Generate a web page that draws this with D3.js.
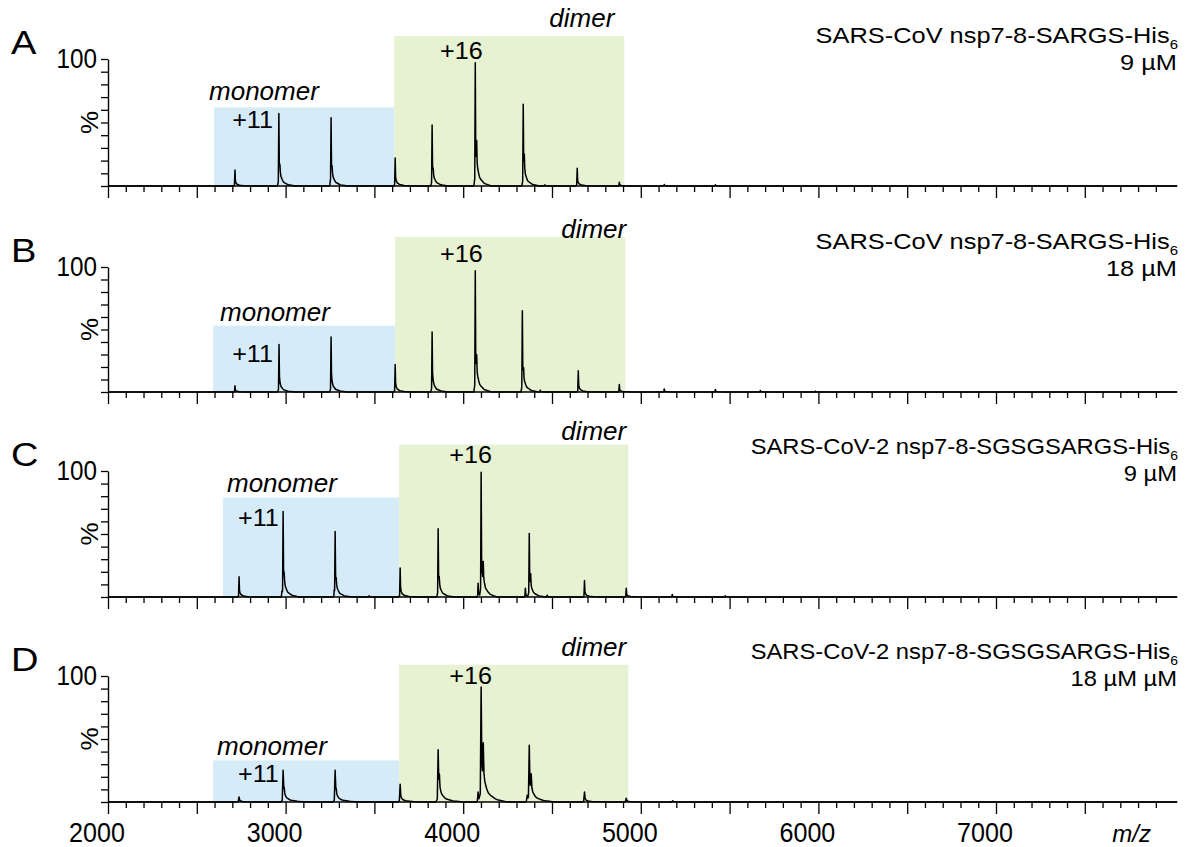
<!DOCTYPE html>
<html><head><meta charset="utf-8">
<script src="https://cdn.jsdelivr.net/npm/d3@7"></script>
<style>
body{margin:0;background:#fff;}
svg{display:block;font-family:"Liberation Sans",Arial,Helvetica,sans-serif;}
</style></head>
<body><svg id="c" width="1188" height="847"></svg>
<script>
// ---------- data ----------
const panelLetters = ["A","B","C","D"];
const titleLine1 = ["SARS-CoV nsp7-8-SARGS-His","SARS-CoV nsp7-8-SARGS-His","SARS-CoV-2 nsp7-8-SGSGSARGS-His","SARS-CoV-2 nsp7-8-SGSGSARGS-His"];
const titleSub = ["6","6","6","6"];
const titleLine2 = ["9 µM","18 µM","9 µM","18 µM µM"];
const xTickLabels = [2000,3000,4000,5000,6000,7000];
const xLabel = "m/z";
const yLabel = "%";
// peaks: [m/z, relative intensity %]
const peaksA = [[2715,12.6],[2962,57],[2968,6],[3252,2],[3256,53],[3262,5],[3617,22],[3825,48],[3831,5],[4068,97],[4076,20],[4338,64],[4344,13],[4460,1],[4642,14],[4879,3],[5132,1.2],[5420,1]];
const peaksB = [[2715,5],[2963,38],[3256,44],[3617,22],[3825,48],[4068,97],[4076,14],[4333,65],[4340,8],[4434,1.5],[4648,17],[4879,6],[5132,2.5],[5420,2],[5673,1.2],[5983,0.7]];
const peaksC = [[2738,16],[2979,4],[2986,67],[2992,6],[3274,4],[3279,51],[3285,5],[3470,1],[3645,23],[3859,54],[3865,6],[4084,11],[4101,98],[4113,17],[4350,7],[4372,50],[4380,10],[4473,1.5],[4683,13],[4918,7],[5177,2],[5476,1]];
const peaksD = [[2738,4],[2986,25],[2992,5],[3279,25],[3285,4],[3645,14],[3859,41],[3866,12],[4084,8],[4101,90],[4113,31],[4360,5],[4372,44],[4383,14],[4683,8],[4918,3],[5180,1]];
const panelPeaks = [peaksA, peaksB, peaksC, peaksD];
// shaded regions: [start m/z, end m/z, top %]
const monomerBox = [[2597,3611,62],[2592,3617,53],[2648,3639,79],[2592,3639,33]];
const dimerBox = [[3611,4907,118],[3617,4913,124],[3639,4930,121],[3639,4930,109]];
// annotation anchors [m/z, %]
const monomerText = [[2569,68],[2631,57],[2670,83],[2614,37]];
const plus11Text = [[2699,46],[2699,24],[2732,56],[2732,16]];
const dimerText = [[4851,125],[4918,123],[4918,125],[4918,116]];
const plus16Text = [[3870,100],[3870,104],[3921,106],[3921,94]];
// peak profile: [offset m/z, fraction of height]
const profile = [[-8,0],[-3,0.06],[0,1],[2.5,0.32],[6,0.19],[12,0.11],[25,0.05],[50,0.017],[90,0]];
const tailScale = [1,1,1,1.6];

// ---------- layout ----------
const baseY = [186,392,597,802];
const topY = [59,267,471,676];
const titleScale = [1.154,1.154,1.08,1.08];
const svg = d3.select("#c");
const x = d3.scaleLinear().domain([2000,8000]).range([108,1173.6]);
const xEnd = 8020;
const blue = "#d5ebf7", green = "#e7f2d3";

function stext(g, px, py, str, size, sx, anchor, italic){
  return g.append("text").attr("transform",`translate(${px},${py}) scale(${sx},1)`)
    .attr("text-anchor",anchor||"start").attr("font-size",size)
    .attr("font-style",italic?"italic":"normal").attr("fill","#000").text(str);
}
function prof(d, ts){
  for(let i=0;i<profile.length-1;i++){
    const a=profile[i][0]*ts, b=profile[i+1][0]*ts;
    if(d>=a && d<=b){ return profile[i][1] + (profile[i+1][1]-profile[i][1])*(d-a)/(b-a); }
  }
  return 0;
}

panelLetters.forEach((L,i)=>{
  const g = svg.append("g");
  const y = d3.scaleLinear().domain([0,100]).range([baseY[i], topY[i]]);
  // boxes
  const mb = monomerBox[i], db = dimerBox[i];
  g.append("rect").attr("x",x(mb[0])).attr("width",x(mb[1])-x(mb[0])).attr("y",y(mb[2])).attr("height",y(0)-y(mb[2])).attr("fill",blue);
  g.append("rect").attr("x",x(db[0])).attr("width",x(db[1])-x(db[0])).attr("y",y(db[2])).attr("height",y(0)-y(db[2])).attr("fill",green);
  // spectrum
  const pk = panelPeaks[i], ts = tailScale[i];
  let xs = [2000, xEnd];
  pk.forEach(p=>profile.forEach(o=>xs.push(p[0]+o[0]*ts)));
  xs = Array.from(new Set(xs)).sort((a,b)=>a-b);
  const pts = xs.map(v=>[v, d3.sum(pk, p=>p[1]*prof(v-p[0], ts))]);
  g.append("path").datum(pts).attr("fill","none").attr("stroke","#000").attr("stroke-width",1.5).attr("stroke-linejoin","round")
    .attr("d", d3.line().x(d=>x(d[0])).y(d=>y(d[1])));
  // x axis
  g.append("line").attr("x1",x(2000)).attr("x2",x(xEnd)).attr("y1",y(0)).attr("y2",y(0)).attr("stroke","#000").attr("stroke-width",1.5);
  const minor = g.append("g").attr("transform",`translate(0,${y(0)})`)
    .call(d3.axisBottom(x).tickValues(d3.range(2000,7901,100).filter(v=>v%500!==0)).tickSize(6).tickSizeOuter(0).tickFormat(""));
  const major = g.append("g").attr("transform",`translate(0,${y(0)})`)
    .call(d3.axisBottom(x).tickValues(d3.range(2000,7501,500)).tickSize(12).tickSizeOuter(0).tickFormat(""));
  [minor,major].forEach(a=>{a.select(".domain").remove(); a.selectAll("line").attr("stroke","#000").attr("stroke-width",1.3);});
  // y axis
  const ya = g.append("g").attr("transform",`translate(${x(2000)},0)`)
    .call(d3.axisLeft(y).tickValues(d3.range(0,101,10)).tickSize(7).tickSizeOuter(0).tickFormat(""));
  ya.select(".domain").attr("stroke","#000").attr("stroke-width",1.4);
  ya.selectAll("line").attr("stroke","#000").attr("stroke-width",1.3);
  stext(g, 97, y(100)+9, "100", 27, 0.9, "end");
  g.append("text").attr("transform",`translate(98,${y(50)}) rotate(-90) scale(1,0.95)`).attr("text-anchor","middle")
    .attr("font-size",26).text(yLabel);
  // panel letter
  stext(g, 11, y(100)-5, L, 34, 1.12, "start");
  // titles
  const t = g.append("text").attr("transform",`translate(1178,${y(0)-143}) scale(${titleScale[i]},1)`).attr("text-anchor","end").attr("font-size",22);
  t.append("tspan").text(titleLine1[i]);
  t.append("tspan").attr("font-size",13).attr("dy",6).text(titleSub[i]);
  stext(g, 1177, y(0)-116, titleLine2[i], 22, titleScale[i], "end");
  // annotations
  stext(g, x(monomerText[i][0]), y(monomerText[i][1]), "monomer", 25, 1.04, "start", true);
  stext(g, x(plus11Text[i][0]), y(plus11Text[i][1]), "+11", 24, 1.05, "start");
  stext(g, x(dimerText[i][0]), y(dimerText[i][1]), "dimer", 25, 1.04, "end", true);
  stext(g, x(plus16Text[i][0]), y(plus16Text[i][1]), "+16", 24, 1.05, "start");
  if(i===3){
    xTickLabels.forEach(v=>stext(g, x(v)-11, y(0)+40, String(v), 27, 0.93, "middle"));
    stext(g, 1151, y(0)+40, xLabel, 24, 1.0, "end", true);
  }
});
</script></body></html>
